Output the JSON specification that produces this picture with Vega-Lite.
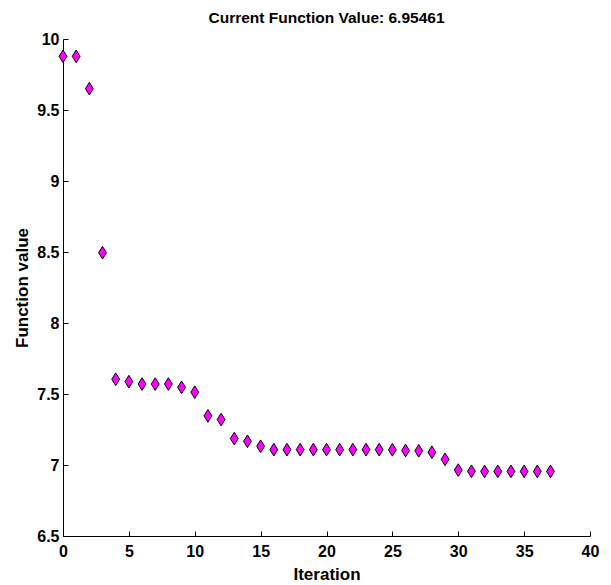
{
  "$schema": "https://vega.github.io/schema/vega-lite/v6.json",
  "autosize": "none",
  "width": 527,
  "height": 497,
  "padding": {"left": 63, "top": 39, "right": 21, "bottom": 49},
  "background": "white",
  "title": {
    "text": "Current Function Value: 6.95461",
    "font": "Liberation Sans",
    "fontSize": 15.5,
    "fontWeight": "bold",
    "color": "black",
    "offset": 5,
    "anchor": "middle"
  },
  "config": {
    "view": {"stroke": null},
    "axis": {
      "grid": false,
      "domainColor": "black",
      "tickColor": "black",
      "labelColor": "black",
      "titleColor": "black",
      "labelFont": "Liberation Sans",
      "titleFont": "Liberation Sans",
      "labelFontSize": 16,
      "labelFontWeight": "bold",
      "titleFontSize": 17,
      "titleFontWeight": "bold",
      "tickSize": -5,
      "domainWidth": 1,
      "tickWidth": 1
    }
  },
  "data": {
    "values": [
      {"iter": 0, "f": 9.878},
      {"iter": 1, "f": 9.878},
      {"iter": 2, "f": 9.65},
      {"iter": 3, "f": 8.495},
      {"iter": 4, "f": 7.604},
      {"iter": 5, "f": 7.587},
      {"iter": 6, "f": 7.57},
      {"iter": 7, "f": 7.57},
      {"iter": 8, "f": 7.57},
      {"iter": 9, "f": 7.547},
      {"iter": 10, "f": 7.513},
      {"iter": 11, "f": 7.346},
      {"iter": 12, "f": 7.32},
      {"iter": 13, "f": 7.186},
      {"iter": 14, "f": 7.167},
      {"iter": 15, "f": 7.132},
      {"iter": 16, "f": 7.108},
      {"iter": 17, "f": 7.108},
      {"iter": 18, "f": 7.108},
      {"iter": 19, "f": 7.108},
      {"iter": 20, "f": 7.108},
      {"iter": 21, "f": 7.108},
      {"iter": 22, "f": 7.108},
      {"iter": 23, "f": 7.108},
      {"iter": 24, "f": 7.108},
      {"iter": 25, "f": 7.107},
      {"iter": 26, "f": 7.102},
      {"iter": 27, "f": 7.1},
      {"iter": 28, "f": 7.09},
      {"iter": 29, "f": 7.04},
      {"iter": 30, "f": 6.964},
      {"iter": 31, "f": 6.956},
      {"iter": 32, "f": 6.955},
      {"iter": 33, "f": 6.955},
      {"iter": 34, "f": 6.955},
      {"iter": 35, "f": 6.955},
      {"iter": 36, "f": 6.955},
      {"iter": 37, "f": 6.95461}
    ]
  },
  "mark": {
    "type": "point",
    "shape": "M0,-1L0.62,0L0,1L-0.62,0Z",
    "filled": true,
    "fill": "#ff00ff",
    "stroke": "black",
    "strokeWidth": 1,
    "size": 160,
    "opacity": 1
  },
  "encoding": {
    "x": {
      "field": "iter",
      "type": "quantitative",
      "scale": {"domain": [0, 40], "nice": false, "zero": false},
      "axis": {"values": [0, 5, 10, 15, 20, 25, 30, 35, 40], "title": "Iteration", "labelPadding": 12, "titlePadding": 7, "labelFlush": false}
    },
    "y": {
      "field": "f",
      "type": "quantitative",
      "scale": {"domain": [6.5, 10], "nice": false, "zero": false},
      "axis": {"values": [6.5, 7, 7.5, 8, 8.5, 9, 9.5, 10], "title": "Function value", "labelPadding": 9, "titlePadding": 5, "labelFlush": false, "format": "~g"}
    }
  }
}
